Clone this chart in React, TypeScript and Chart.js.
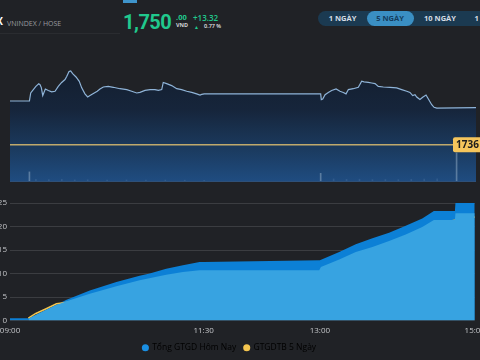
import React, { useEffect, useRef } from 'react';
import { Chart, registerables } from 'chart.js';

Chart.register(...registerables);

// ---------- Upper chart: VNINDEX intraday (minutes after 09:00) ----------
const indexMinutes = [0, 15, 16, 18, 20, 22.2, 23.2, 24.2, 25.3, 27.3, 29.6, 32.2, 34.8, 37.3, 39.9, 42.5, 43.8, 45.6, 46.9, 48.4, 51, 53.5, 55.4, 57.9, 60, 61.8, 64.4, 67.4, 69.5, 72.1, 75.9, 79.8, 85, 90.2, 94, 97.9, 100.4, 104.3, 108.2, 112, 114.6, 117.2, 118.4, 121, 124.9, 128.8, 132.6, 136.5, 140.4, 144.2, 146.8, 148.1, 150, 240, 240.5, 241.6, 243.4, 245.9, 248.5, 251.9, 254.9, 257.5, 259.6, 261.4, 265.2, 269.1, 271.7, 273.5, 276.8, 279.4, 282, 284.5, 288.4, 293.6, 298.7, 302.6, 306.5, 309, 311.1, 312.9, 314.2, 316.7, 318.8, 321.4, 323.2, 325.8, 327.6, 329.7, 360];
const indexValues = [1752.0, 1752.0, 1754.8, 1756.0, 1757.1, 1758.0, 1757.7, 1756.7, 1753.9, 1756.2, 1755.7, 1755.2, 1755.4, 1757.1, 1758.5, 1759.5, 1760.6, 1762.3, 1762.5, 1761.6, 1760.4, 1758.9, 1756.6, 1754.5, 1753.4, 1753.9, 1754.6, 1755.4, 1756.2, 1756.9, 1757.1, 1756.8, 1756.3, 1756.0, 1755.4, 1754.8, 1755.0, 1755.7, 1756.0, 1756.0, 1755.7, 1756.0, 1758.5, 1758.1, 1757.4, 1756.3, 1756.0, 1755.4, 1755.0, 1754.5, 1754.1, 1754.3, 1754.5, 1754.5, 1752.5, 1752.7, 1754.2, 1755.0, 1755.7, 1756.2, 1755.4, 1755.0, 1754.5, 1756.0, 1756.3, 1756.8, 1758.9, 1758.7, 1758.5, 1758.3, 1758.1, 1757.1, 1756.9, 1756.8, 1756.6, 1756.0, 1755.4, 1755.0, 1753.9, 1754.2, 1753.4, 1752.5, 1753.3, 1754.1, 1752.7, 1750.7, 1749.8, 1749.5, 1749.7];
const refValue = 1736.68;
const refLabel = '1736';
const volumeMinutes = [15, 20, 30, 40, 50, 60, 75, 90, 105, 120, 135, 150, 240, 250, 260, 270, 280, 290, 300, 310, 320, 330, 345];
const volumeValues = [6.5, 1.2, 1.0, 1.2, 0.8, 0.9, 0.7, 0.8, 0.6, 0.7, 0.6, 0.5, 5.5, 1.5, 1.2, 1.3, 1.0, 1.1, 1.0, 1.2, 1.4, 1.5, 20];

// ---------- Lower chart: trading value ----------
const timeTicks = [0, 150, 240, 360];
const timeLabels = ['09:00', '11:30', '13:00', '15:00'];
const totalMinutes = [0, 14.2, 15.5, 34.8, 43.8, 61.8, 82.4, 100.4, 108.2, 121, 133.9, 146.8, 150, 240, 255, 267.8, 280.7, 293.6, 306.5, 319.3, 328.3, 344.6, 345, 360];
const totalValues = [0.5, 0.5, 0.6, 3.2, 4.4, 6.4, 8.2, 9.5, 10.0, 11.0, 11.75, 12.45, 12.45, 12.8, 14.6, 16.2, 17.5, 18.65, 20.15, 21.7, 23.3, 23.3, 25.0, 25.0];
const matchedMinutes = [0, 14.2, 14.6, 15.5, 34.8, 43.8, 61.8, 82.4, 100.4, 121, 133.9, 146.8, 150, 239.5, 240.8, 255, 267.8, 280.7, 293.6, 306.5, 319.3, 328.3, 344.6, 345, 360];
const matchedValues = [0, 0, 0.3, 0.6, 3.2, 4.1, 5.7, 7.3, 8.55, 9.75, 10.3, 10.7, 10.7, 10.7, 11.4, 13.0, 14.6, 15.65, 16.9, 18.3, 19.9, 21.4, 21.4, 22.8, 22.8];
const avgMinutes = [14.2, 20, 28, 36, 45, 60, 100, 150, 240, 255, 293.6, 328.3, 360];
const avgValues = [0.5, 1.5, 2.5, 3.55, 3.9, 5.0, 7.8, 10.2, 10.3, 12.2, 16.2, 20.6, 22.0];
const yTicksStep = 5;
const legendLabels = ['Tổng GTGD Hôm Nay', 'GTGDTB 5 Ngày'];

const pts = (xs: number[], ys: number[]) => xs.map((x, i) => ({ x, y: ys[i] }));

const FONT = "'Open Sans', sans-serif";

const refLabelPlugin = {
  id: 'refLabel',
  afterDatasetsDraw(chart: any) {
    const { ctx, chartArea, scales } = chart;
    const y = scales.y.getPixelForValue(refValue);
    ctx.save();
    ctx.strokeStyle = '#2e5078';
    ctx.lineWidth = 1;
    ctx.beginPath();
    ctx.moveTo(chartArea.left, chartArea.bottom + 0.5);
    ctx.lineTo(chartArea.right, chartArea.bottom + 0.5);
    ctx.stroke();
    const x = chartArea.right - 23;
    const h = 15;
    ctx.fillStyle = '#f5c55c';
    ctx.beginPath();
    (ctx as any).roundRect(x, y - h / 2, 34, h, 2);
    ctx.fill();
    ctx.fillStyle = '#1c1c1c';
    ctx.font = `bold 10px ${FONT}`;
    ctx.textBaseline = 'middle';
    ctx.textAlign = 'left';
    ctx.fillText(refLabel, x + 3, y + 0.5);
    ctx.restore();
  },
};

const T = (p: { x?: number; right?: number; y: number; size: number; weight?: number; color: string; text: string; family?: string; ls?: number }) => (
  <span
    style={{
      position: 'absolute',
      left: p.x,
      right: p.right,
      top: p.y,
      fontSize: p.size,
      lineHeight: 1,
      fontWeight: p.weight ?? 400,
      color: p.color,
      fontFamily: p.family ?? FONT,
      whiteSpace: 'nowrap',
      letterSpacing: p.ls,
    }}
  >
    {p.text}
  </span>
);

export default function App() {
  const topRef = useRef<HTMLCanvasElement>(null);
  const botRef = useRef<HTMLCanvasElement>(null);

  useEffect(() => {
    const top = new Chart(topRef.current!, {
      type: 'line',
      data: {
        datasets: [
          {
            type: 'line',
            label: 'VNINDEX',
            data: pts(indexMinutes, indexValues),
            borderColor: '#8fb4d8',
            borderWidth: 1.2,
            pointRadius: 0,
            fill: 'start',
            backgroundColor: (c: any) => {
              const { chart } = c;
              const ca = chart.chartArea;
              if (!ca) return 'rgba(0,0,0,0)';
              const g = chart.ctx.createLinearGradient(0, ca.top, 0, ca.bottom);
              g.addColorStop(0, '#121a26');
              g.addColorStop(0.49, '#16253b');
              g.addColorStop(0.78, '#1b3b60');
              g.addColorStop(1, '#1f4c80');
              return g;
            },
            order: 3,
            yAxisID: 'y',
          },
          {
            type: 'bar',
            label: 'KL',
            data: pts(volumeMinutes, volumeValues),
            backgroundColor: (c: any) => ((c.raw && c.raw.y > 3) ? 'rgba(150,175,200,0.5)' : 'rgba(110,145,185,0.22)'),
            barThickness: 1,
            yAxisID: 'yv',
            order: 2,
          },
          {
            type: 'line',
            label: 'Tham chiếu',
            data: [{ x: 0, y: refValue }, { x: 360, y: refValue }],
            borderColor: '#bfa96c',
            borderWidth: 1.5,
            pointRadius: 0,
            fill: false,
            order: 1,
            yAxisID: 'y',
          },
        ],
      } as any,
      options: {
        animation: false,
        responsive: false,
        layout: { padding: { left: 10, right: 4, top: 11, bottom: 9 } },
        scales: {
          x: { type: 'linear', min: 0, max: 360, display: false, offset: false },
          y: { min: 1724, max: 1773, display: false },
          yv: { min: 0, max: 100, display: false },
        },
        plugins: { legend: { display: false }, tooltip: { enabled: false } },
      } as any,
      plugins: [refLabelPlugin],
    });

    const tickColor = '#c4c6c9';
    const bottom = new Chart(botRef.current!, {
      type: 'line',
      data: {
        datasets: [
          {
            label: 'Khớp lệnh',
            data: pts(matchedMinutes, matchedValues),
            backgroundColor: '#37a3e1',
            borderColor: 'rgba(0,0,0,0)',
            borderWidth: 0,
            pointRadius: 0,
            fill: 'origin',
          },
          {
            label: legendLabels[1],
            data: pts(avgMinutes, avgValues),
            borderColor: '#f2c44f',
            backgroundColor: '#f2c44f',
            borderWidth: 1.5,
            pointRadius: 0,
            fill: false,
          },
          {
            label: legendLabels[0],
            data: pts(totalMinutes, totalValues),
            backgroundColor: '#0c80d6',
            borderColor: 'rgba(0,0,0,0)',
            borderWidth: 0,
            pointRadius: 0,
            fill: 'origin',
          },
        ],
      } as any,
      options: {
        animation: false,
        responsive: false,
        layout: { padding: { left: 13, right: 14, top: 13, bottom: 0 } },
        scales: {
          x: {
            type: 'linear',
            min: 0,
            max: 360,
            offset: false,
            grid: { display: false, drawTicks: false },
            border: { display: false },
            afterBuildTicks: (s: any) => {
              s.ticks = timeTicks.map((v) => ({ value: v }));
            },
            afterFit: (s: any) => {
              s.height = 15;
            },
            ticks: {
              color: tickColor,
              font: { family: FONT, size: 8 },
              padding: 5,
              maxRotation: 0,
              autoSkip: false,
              callback: (v: any) => timeLabels[timeTicks.indexOf(Number(v))] ?? '',
            },
          },
          y: {
            min: 0,
            max: 25,
            ticks: { stepSize: yTicksStep, color: tickColor, font: { family: FONT, size: 8 }, padding: 3 },
            grid: { color: '#3b3d41', drawTicks: false },
            border: { display: false },
            afterFit: (s: any) => {
              s.width = 27;
            },
          },
        },
        plugins: {
          tooltip: { enabled: false },
          legend: {
            position: 'bottom',
            labels: {
              color: '#cfd1d4',
              font: { family: FONT, size: 8.5 },
              usePointStyle: true,
              boxWidth: 5,
              boxHeight: 5,
              padding: 8,
              generateLabels: () => [
                { text: legendLabels[0], fillStyle: '#1a8fe3', strokeStyle: '#1a8fe3', lineWidth: 0, pointStyle: 'circle', hidden: false, datasetIndex: 2 },
                { text: legendLabels[1], fillStyle: '#f4c54f', strokeStyle: '#f4c54f', lineWidth: 0, pointStyle: 'circle', hidden: false, datasetIndex: 1 },
              ],
            },
          },
        },
      } as any,
    });

    return () => {
      top.destroy();
      bottom.destroy();
    };
  }, []);

  const green = '#20c98d';
  return (
    <div style={{ position: 'fixed', left: 0, top: 0, width: 480, height: 360, overflow: 'hidden', background: '#202226' }}>
      <div style={{ position: 'absolute', left: 123, top: 0, width: 14, height: 2.5, background: '#3f95cc' }} />
      <div style={{ position: 'absolute', left: 0, top: 33, width: 120, height: 1, background: '#2a2c30' }} />
      <T right={477} y={16.3} size={10} weight={700} color="#ffffff" text="VNINDEX" />
      <T x={7} y={19.5} size={7} color="#9a9ca0" text="VNINDEX / HOSE" />
      <T x={123} y={12.4} size={20} weight={700} color={green} text="1,750" family="Roboto, sans-serif" ls={-0.5} />
      <T x={176} y={14.4} size={7.5} weight={700} color={green} text=".00" />
      <T x={176} y={23} size={5.5} weight={700} color="#d0d2d5" text="VND" />
      <T x={193} y={13.6} size={8} weight={600} color={green} text="+13.32" />
      <T x={194} y={24.5} size={5} color={green} text="▲" />
      <T x={204} y={24} size={5.5} weight={600} color="#e0e2e5" text="0.77 %" />

      <div style={{ position: 'absolute', left: 318, top: 11, width: 200, height: 15, background: '#1b3a51', borderRadius: 8, overflow: 'hidden' }}>
        <div style={{ position: 'absolute', left: 49, top: 0, width: 47, height: 15, background: '#3a8fc3', borderRadius: 8 }} />
        {[
          { c: 24.5, t: '1 NGÀY', col: '#d6dde4' },
          { c: 72, t: '5 NGÀY', col: '#143d5e' },
          { c: 122, t: '10 NGÀY', col: '#d6dde4' },
          { c: 173, t: '1 THÁNG', col: '#d6dde4' },
        ].map((b) => (
          <div
            key={b.t}
            style={{
              position: 'absolute',
              left: b.c - 30,
              width: 60,
              top: 0,
              height: 15,
              lineHeight: '15px',
              textAlign: 'center',
              fontFamily: FONT,
              fontWeight: 700,
              fontSize: 7.5,
              color: b.col,
              whiteSpace: 'nowrap',
            }}
          >
            {b.t}
          </div>
        ))}
      </div>

      <canvas ref={topRef} width={480} height={160} style={{ position: 'absolute', left: 0, top: 30, width: 480, height: 160 }} />
      <canvas ref={botRef} width={520} height={172} style={{ position: 'absolute', left: -30, top: 190, width: 520, height: 172 }} />
    </div>
  );
}
